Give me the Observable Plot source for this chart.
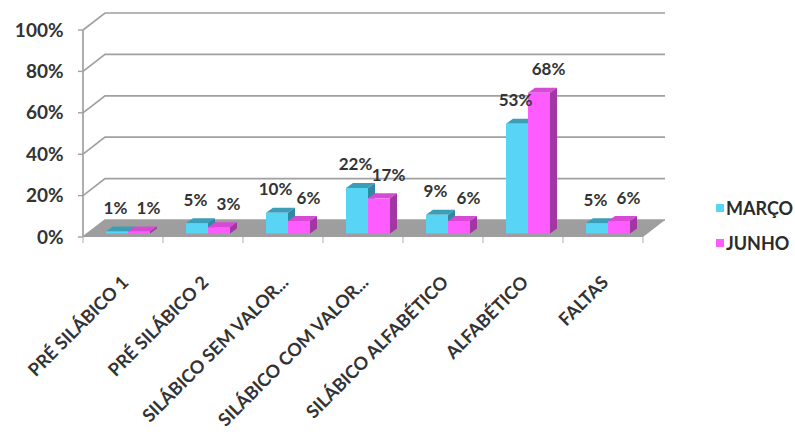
<!DOCTYPE html>
<html>
<head>
<meta charset="utf-8">
<script src="https://cdn.jsdelivr.net/npm/d3@7"></script>
<script src="https://cdn.jsdelivr.net/npm/@observablehq/plot@0.6"></script>
<style>
html, body { margin: 0; padding: 0; background: #fff; }
#wrap { position: relative; width: 795px; height: 436px; overflow: hidden; }
#legend { position: absolute; left: 716px; top: 190px; font: bold 18px Lato, sans-serif; color: #2b2b2b; }
#legend .item { display: flex; align-items: center; height: 35px; white-space: nowrap; }
#legend .sw { width: 8px; height: 8px; margin-right: 2px; }
</style>
</head>
<body>
<div id="wrap"><div id="legend"></div></div>
<script>
// ---- data ----
const categories = ["PRÉ SILÁBICO 1", "PRÉ SILÁBICO 2", "SILÁBICO SEM VALOR...", "SILÁBICO COM VALOR...", "SILÁBICO ALFABÉTICO", "ALFABÉTICO", "FALTAS"];
const marco = [1, 5, 10, 22, 9, 53, 5];
const junho = [1, 3, 6, 17, 6, 68, 6];
const seriesNames = ["MARÇO", "JUNHO"];
const yTicks = [0, 20, 40, 60, 80, 100];

// ---- styling ----
const palette = {
  "MARÇO": {front: "#58d4f4", top: "#3c9db6", side: "#2e8aa3"},
  "JUNHO": {front: "#ff5cff", top: "#d64ad6", side: "#a236a2"}
};
const W = 795, H = 436, ML = 83, MR = 152, MT = 30, MB = 199;
const DX = 22, DY = -17;   // wall depth
const BX = 5, BY = -3.5;   // bar placement inside the depth
const FX = 7, FY = -5;     // bar depth
const textColor = "#333333";
const font = "Lato, 'Open Sans', sans-serif";

const rowsM = categories.map((c, i) => ({category: c, value: marco[i]}));
const rowsJ = categories.map((c, i) => ({category: c, value: junho[i]}));
const insets = {"MARÇO": {left: 18, right: 40}, "JUNHO": {left: 40, right: 18}};

function wallsMark(index, scales, values, dims) {
  const x = scales.x, y = scales.y;
  const left = dims.marginLeft, right = dims.width - dims.marginRight;
  const g = d3.create("svg:g");
  for (const t of yTicks) {
    const yy = y(t);
    g.append("path")
      .attr("d", `M${left},${yy}L${left + DX},${yy + DY}H${right + DX}`)
      .attr("fill", "none").attr("stroke", "#a0a0a0").attr("stroke-width", 1.7);
    g.append("line").attr("x1", left - 5).attr("x2", left).attr("y1", yy).attr("y2", yy)
      .attr("stroke", "#a0a0a0").attr("stroke-width", 1.4);
  }
  g.append("line").attr("x1", left).attr("x2", left).attr("y1", y(100)).attr("y2", y(0))
    .attr("stroke", "#a0a0a0").attr("stroke-width", 1.7);
  const y0 = y(0);
  g.append("path")
    .attr("d", `M${left},${y0}H${right}L${right + DX},${y0 + DY}H${left + DX}Z`)
    .attr("fill", "#9e9e9e");
  const bw = x.bandwidth ? x.bandwidth() : (right - left) / categories.length;
  const xs = categories.map(c => x(c)).concat([x(categories[categories.length - 1]) + bw]);
  for (const xx of xs) {
    g.append("line").attr("x1", xx).attr("x2", xx).attr("y1", y0).attr("y2", y0 + 6)
      .attr("stroke", "#c4c4c4").attr("stroke-width", 1.4);
  }
  return g.node();
}

function facesMark(rows, name) {
  return (index, scales) => {
    const x = scales.x, y = scales.y;
    const bw = x.bandwidth ? x.bandwidth() : 80;
    const col = palette[name], ins = insets[name];
    const g = d3.create("svg:g");
    for (const d of rows) {
      const x1 = x(d.category) + ins.left + BX;
      const x2 = x(d.category) + bw - ins.right + BX;
      const yt = y(d.value) + BY, yb = y(0) + BY;
      g.append("path")
        .attr("d", `M${x1},${yt}L${x1 + FX},${yt + FY}L${x2 + FX},${yt + FY}L${x2},${yt}Z`)
        .attr("fill", col.top);
      g.append("path")
        .attr("d", `M${x2},${yt}L${x2 + FX},${yt + FY}L${x2 + FX},${yb + FY}L${x2},${yb}Z`)
        .attr("fill", col.side);
    }
    return g.node();
  };
}

const labelStyle = {fontFamily: font, fontWeight: "bold", fill: textColor};

const chart = Plot.plot({
  width: W, height: H,
  marginLeft: ML, marginRight: MR, marginTop: MT, marginBottom: MB,
  style: {background: "white", overflow: "visible"},
  x: {type: "band", domain: categories, padding: 0, axis: null},
  y: {domain: [0, 100], axis: null},
  marks: [
    wallsMark,
    facesMark(rowsM, "MARÇO"),
    Plot.barY(rowsM, {x: "category", y: "value", fill: palette["MARÇO"].front,
      insetLeft: insets["MARÇO"].left, insetRight: insets["MARÇO"].right, dx: BX, dy: BY}),
    facesMark(rowsJ, "JUNHO"),
    Plot.barY(rowsJ, {x: "category", y: "value", fill: palette["JUNHO"].front,
      insetLeft: insets["JUNHO"].left, insetRight: insets["JUNHO"].right, dx: BX, dy: BY}),
    Plot.text(rowsM, {x: "category", y: "value", text: d => d.value + "%", dx: -8, dy: -27,
      fontSize: 17, ...labelStyle}),
    Plot.text(rowsJ, {x: "category", y: "value", text: d => d.value + "%", dx: 25, dy: -27,
      fontSize: 17, ...labelStyle}),
    Plot.text(yTicks, {y: d => d, text: d => d + "%", frameAnchor: "left", textAnchor: "end", dx: -20,
      fontSize: 19, ...labelStyle}),
    Plot.text(categories, {x: d => d, text: d => d, frameAnchor: "bottom", rotate: -45,
      textAnchor: "end", lineAnchor: "middle", dx: 2, dy: 42, fontSize: 18, ...labelStyle})
  ]
});

const wrap = document.getElementById("wrap");
wrap.insertBefore(chart, wrap.firstChild);

const legend = document.getElementById("legend");
for (const name of seriesNames) {
  const item = document.createElement("div");
  item.className = "item";
  const sw = document.createElement("span");
  sw.className = "sw";
  sw.style.background = palette[name].front;
  const lab = document.createElement("span");
  lab.textContent = name;
  item.appendChild(sw);
  item.appendChild(lab);
  legend.appendChild(item);
}
</script>
</body>
</html>
